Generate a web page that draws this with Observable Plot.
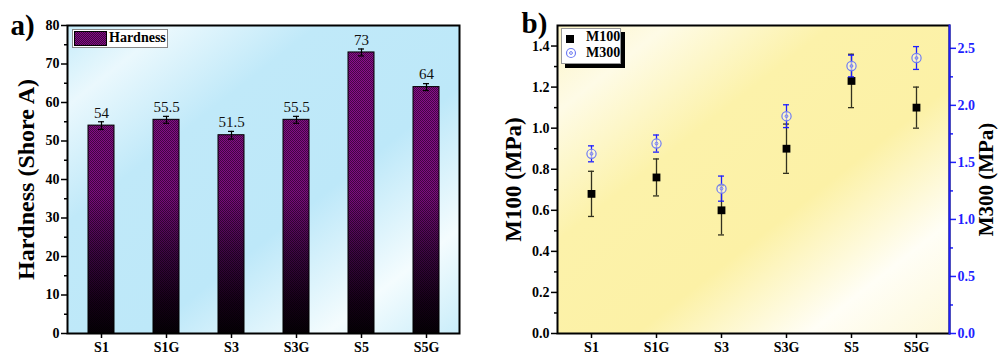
<!DOCTYPE html>
<html><head><meta charset="utf-8">
<script src="https://cdn.jsdelivr.net/npm/d3@7"></script>
<script src="https://cdn.jsdelivr.net/npm/@observablehq/plot@0.6"></script>
<style>
body{margin:0;background:#fff;}
#wrap{position:relative;width:998px;height:354px;overflow:hidden;font-family:"Liberation Serif",serif;}
.panel{position:absolute;top:0;}
.leg{position:absolute;background:#fff;font-weight:bold;font-size:14px;color:#000;box-sizing:border-box;}
</style></head><body><div id="wrap"></div>
<script>
const categories = ["S1","S1G","S3","S3G","S5","S5G"];
const hardness = [54,55.5,51.5,55.5,73,64];
const hardnessErr = [1,0.9,1,0.9,0.9,0.9];
const hardnessLabels = ["54","55.5","51.5","55.5","73","64"];
const m100 = [0.68,0.76,0.60,0.90,1.23,1.10];
const m100Err = [0.11,0.09,0.12,0.12,0.13,0.10];
const m300 = [1.575,1.665,1.27,1.905,2.345,2.415];
const m300Err = [0.07,0.075,0.11,0.10,0.095,0.10];
const hardnessTicks = [0,10,20,30,40,50,60,70,80];
const hardnessMinor = [5,15,25,35,45,55,65,75];
const m100Ticks = [0,0.2,0.4,0.6,0.8,1.0,1.2,1.4];
const m100Minor = [0.1,0.3,0.5,0.7,0.9,1.1,1.3];
const m300Ticks = [0,0.5,1.0,1.5,2.0,2.5];
const m300Minor = [0.25,0.75,1.25,1.75,2.25];
const m100Max = 1.5, m300Max = 2.7;

const wrap = document.getElementById("wrap");
const font = "Liberation Serif";
const xBand = {type:"band", domain:categories, paddingInner:0.6, paddingOuter:0.3};

function addDefs(svg, html){
  const d = d3.select(svg).insert("defs", ":first-child");
  d.html(html);
}

// ---------- Panel a ----------
const dataA = categories.map((c,i)=>({cat:c, v:hardness[i], e:hardnessErr[i], t:hardnessLabels[i]}));
const A = Plot.plot({
  width:499, height:354, marginLeft:67, marginRight:40, marginTop:25, marginBottom:21,
  style:{fontFamily:font, fontSize:"14px", fontWeight:"bold", background:"transparent", overflow:"visible", color:"#000"},
  x:xBand,
  y:{domain:[0,80]},
  marks:[
    Plot.frame({fill:"url(#bgA)"}),
    Plot.barY(dataA,{x:"cat", y:"v", fill:"url(#barGrad)"}),
    Plot.barY(dataA,{x:"cat", y:"v", fill:"url(#checker)", stroke:"#000", strokeWidth:1}),
    Plot.ruleX(dataA,{x:"cat", y1:d=>d.v-d.e, y2:d=>d.v+d.e, stroke:"#000", strokeWidth:1.2}),
    Plot.tickY(dataA,{x:"cat", y:d=>d.v+d.e, insetLeft:10, insetRight:10, stroke:"#000", strokeWidth:1.2}),
    Plot.tickY(dataA,{x:"cat", y:d=>d.v-d.e, insetLeft:10, insetRight:10, stroke:"#000", strokeWidth:1.2}),
    Plot.text(dataA,{x:"cat", y:d=>d.v+d.e, text:"t", dy:-9, fontWeight:"normal", fontSize:15, fill:"#111"}),
    Plot.axisY({ticks:hardnessTicks, tickSize:6, tickPadding:2, label:null, strokeWidth:1.5}),
    Plot.axisY({ticks:hardnessMinor, tickSize:3, tickFormat:()=>"", label:null, strokeWidth:1.5}),
    Plot.axisX({tickSize:5, tickPadding:4, label:null, strokeWidth:1.5}),
    Plot.frame({stroke:"#000", strokeWidth:2}),
    Plot.text(["Hardness (Shore A)"],{frameAnchor:"left", textAnchor:"middle", lineAnchor:"middle", dx:-41, dy:0, rotate:-90, fontSize:24, fontWeight:"bold"}),
    Plot.text(["a)"],{frameAnchor:"top-left", textAnchor:"middle", lineAnchor:"middle", dx:-45, dy:0, fontSize:29, fontWeight:"bold"})
  ]
});
A.classList.add("panel"); A.style.left = "0px";
addDefs(A, `
 <linearGradient id="bgA" x1="0" y1="0" x2="1" y2="1">
   <stop offset="0" stop-color="#c6ecfa"/>
   <stop offset="0.13" stop-color="#eaf8fd"/>
   <stop offset="0.32" stop-color="#c0e9f9"/>
   <stop offset="0.6" stop-color="#bde8f9"/>
   <stop offset="0.83" stop-color="#f4fcfe"/>
   <stop offset="1" stop-color="#c9edfa"/>
 </linearGradient>
 <linearGradient id="barGrad" gradientUnits="userSpaceOnUse" x1="0" y1="25" x2="0" y2="333">
   <stop offset="0" stop-color="#900f92"/>
   <stop offset="0.55" stop-color="#7e0c80"/>
   <stop offset="0.75" stop-color="#3c0542"/>
   <stop offset="0.9" stop-color="#170019"/>
   <stop offset="1" stop-color="#060006"/>
 </linearGradient>
 <pattern id="checker" patternUnits="userSpaceOnUse" width="2" height="2">
   <rect x="0" y="0" width="1" height="1" fill="rgba(0,0,0,0.5)"/>
   <rect x="1" y="1" width="1" height="1" fill="rgba(0,0,0,0.5)"/>
 </pattern>`);
wrap.appendChild(A);

// ---------- Panel b ----------
const k = m100Max / m300Max;
const dataB = categories.map((c,i)=>({cat:c, a:m100[i], ae:m100Err[i], b:m300[i]*k, be:m300Err[i]*k}));
const blue = "#1f1fff";
const B = Plot.plot({
  width:499, height:354, marginLeft:58, marginRight:49, marginTop:25, marginBottom:21,
  style:{fontFamily:font, fontSize:"14px", fontWeight:"bold", background:"transparent", overflow:"visible", color:"#000"},
  x:xBand,
  y:{domain:[0,m100Max]},
  marks:[
    Plot.frame({fill:"url(#bgB)"}),
    Plot.ruleX(dataB,{x:"cat", y1:d=>d.a-d.ae, y2:d=>d.a+d.ae, stroke:"#33321f", strokeWidth:1.3}),
    Plot.tickY(dataB,{x:"cat", y:d=>d.a+d.ae, insetLeft:10, insetRight:10, stroke:"#33321f", strokeWidth:1.3}),
    Plot.tickY(dataB,{x:"cat", y:d=>d.a-d.ae, insetLeft:10, insetRight:10, stroke:"#33321f", strokeWidth:1.3}),
    Plot.dot(dataB,{x:"cat", y:"a", symbol:"square", r:4.4, fill:"#000", stroke:"none"}),
    Plot.ruleX(dataB,{x:"cat", y1:d=>d.b-d.be, y2:d=>d.b+d.be, stroke:blue, strokeWidth:1.3}),
    Plot.tickY(dataB,{x:"cat", y:d=>d.b+d.be, insetLeft:10, insetRight:10, stroke:blue, strokeWidth:1.3}),
    Plot.tickY(dataB,{x:"cat", y:d=>d.b-d.be, insetLeft:10, insetRight:10, stroke:blue, strokeWidth:1.3}),
    Plot.dot(dataB,{x:"cat", y:"b", r:4.6, fill:"#fffbe0", fillOpacity:0.6, stroke:"#6f7cf2", strokeWidth:1.2}),
    Plot.dot(dataB,{x:"cat", y:"b", r:1.4, fill:"none", stroke:"#6f7cf2", strokeWidth:1}),
    Plot.axisY({ticks:m100Ticks, tickSize:6, tickPadding:2, tickFormat:d=>d.toFixed(1), label:null, strokeWidth:1.5}),
    Plot.axisY({ticks:m100Minor, tickSize:3, tickFormat:()=>"", label:null, strokeWidth:1.5}),
    Plot.axisY({anchor:"right", ticks:m300Ticks.map(t=>t*k), tickSize:6, tickPadding:2, tickFormat:d=>(d/k).toFixed(1), label:null, color:blue, strokeWidth:1.5}),
    Plot.axisY({anchor:"right", ticks:m300Minor.map(t=>t*k), tickSize:3, tickFormat:()=>"", label:null, color:blue, strokeWidth:1.5}),
    Plot.axisX({tickSize:5, tickPadding:4, label:null, strokeWidth:1.5}),
    Plot.frame({stroke:"#000", strokeWidth:2}),
    Plot.frame({anchor:"right", stroke:blue, strokeWidth:2}),
    Plot.text(["M100 (MPa)"],{frameAnchor:"left", textAnchor:"middle", lineAnchor:"middle", dx:-44, dy:0, rotate:-90, fontSize:23, fontWeight:"bold"}),
    Plot.text(["M300 (MPa)"],{frameAnchor:"right", textAnchor:"middle", lineAnchor:"middle", dx:37, dy:0, rotate:-90, fontSize:21, fontWeight:"bold"}),
    Plot.text(["b)"],{frameAnchor:"top-left", textAnchor:"middle", lineAnchor:"middle", dx:-23, dy:-2, fontSize:29, fontWeight:"bold"})
  ]
});
B.classList.add("panel"); B.style.left = "499px";
addDefs(B, `
 <linearGradient id="bgB" x1="0" y1="0" x2="1" y2="1">
   <stop offset="0" stop-color="#fdf5c8"/>
   <stop offset="0.14" stop-color="#fefbe6"/>
   <stop offset="0.35" stop-color="#fcf2aa"/>
   <stop offset="0.6" stop-color="#fcf1a6"/>
   <stop offset="0.82" stop-color="#fffef6"/>
   <stop offset="1" stop-color="#fdf8da"/>
 </linearGradient>`);
wrap.appendChild(B);

// ---------- Legends ----------
const legA = document.createElement("div");
legA.className = "leg";
legA.style.cssText = "left:72px;top:29px;width:96px;height:19px;border:1px solid #888;";
legA.innerHTML = `<svg width="34" height="16" style="position:absolute;left:1px;top:1px">
  <defs><pattern id="chk2" patternUnits="userSpaceOnUse" width="2" height="2"><rect width="1" height="1" fill="rgba(0,0,0,0.5)"/><rect x="1" y="1" width="1" height="1" fill="rgba(0,0,0,0.5)"/></pattern></defs>
  <rect x="0.5" y="0.5" width="32" height="14" fill="#820d84"/><rect x="0.5" y="0.5" width="32" height="14" fill="url(#chk2)" stroke="#000"/></svg>
  <span style="position:absolute;left:36px;top:0px;">${"Hardness"}</span>`;
wrap.appendChild(legA);

const legB = document.createElement("div");
legB.className = "leg";
legB.style.cssText = "left:561px;top:28px;width:60px;height:36px;border:1px solid #999;box-shadow:4px 4px 0 #000;";
legB.innerHTML = `<svg width="20" height="34" style="position:absolute;left:0;top:0">
  <rect x="4" y="6" width="8" height="8" fill="#000"/>
  <circle cx="9" cy="24" r="4.5" fill="none" stroke="#6f7cf2" stroke-width="1.2"/>
  <circle cx="9" cy="24" r="1.4" fill="none" stroke="#6f7cf2" stroke-width="1"/></svg>
  <span style="position:absolute;left:24px;top:0px;">M100</span>
  <span style="position:absolute;left:24px;top:16px;">M300</span>`;
wrap.appendChild(legB);
</script></body></html>
